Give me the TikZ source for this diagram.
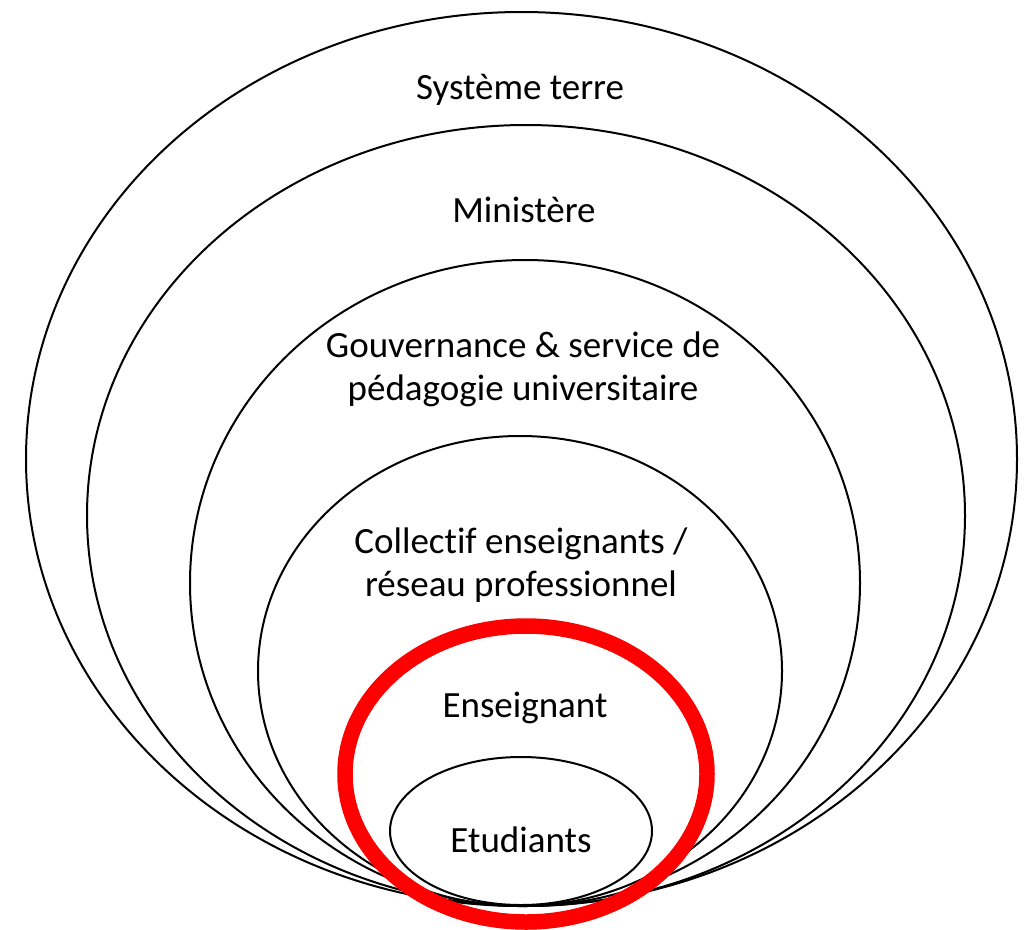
\documentclass[tikz,border=0pt]{standalone}
\usepackage{fontspec}
\setmainfont{Carlito}[Ligatures = CommonOff]

\begin{document}
\begin{tikzpicture}[x = 1pt, y = -1pt]
	\tikzstyle{ringStyle} = [draw, line width = 2pt]
	\tikzstyle{focusStyle} = [draw = red, line width = 15.5pt]
	\tikzstyle{labelStyle} = [anchor = base, align = center, inner sep = 0pt, font = \fontsize{37}{43}\selectfont]
	\useasboundingbox (0, 0) rectangle (1033, 929);
	\draw[ringStyle] (521.5, 459) ellipse [x radius = 495.5, y radius = 447];
	\draw[ringStyle] (526, 515.5) ellipse [x radius = 439, y radius = 390.5];
	\draw[ringStyle] (525, 583) ellipse [x radius = 335, y radius = 323];
	\draw[ringStyle] (520, 671) ellipse [x radius = 262, y radius = 235];
	\draw[ringStyle] (521, 831) ellipse [x radius = 131, y radius = 74];
	\draw[focusStyle] (526, 774) ellipse [x radius = 181, y radius = 148];
	\node[labelStyle] (terre) at (520, 99) {Système terre};
	\node[labelStyle] (ministere) at (524, 222) {Ministère};
	\node[labelStyle] (gouvernance) at (523, 400) {Gouvernance \& service de\\pédagogie universitaire};
	\node[labelStyle] (collectif) at (521, 596) {Collectif enseignants /\\réseau professionnel};
	\node[labelStyle] (enseignant) at (525, 717) {Enseignant};
	\node[labelStyle] (etudiants) at (521, 852) {Etudiants};
\end{tikzpicture}
\end{document}
